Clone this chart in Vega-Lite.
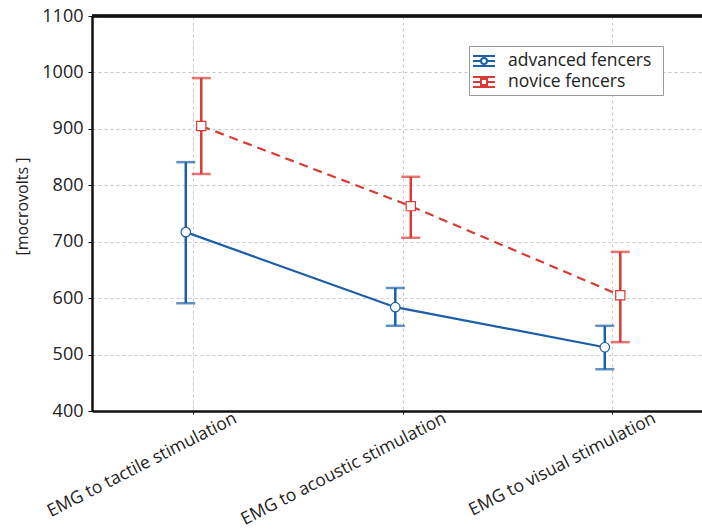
{
  "$schema": "https://vega.github.io/schema/vega-lite/v6.json",
  "autosize": {"type": "none"},
  "width": 610,
  "height": 395,
  "padding": {"left": 92, "top": 16, "right": 0, "bottom": 118},
  "background": "white",
  "config": {
    "view": {"stroke": null},
    "font": "Open Sans",
    "axis": {"labelColor": "#222", "titleColor": "#222"}
  },
  "data": {
    "values": [
      {"stim": "EMG to tactile stimulation", "group": "advanced fencers", "mean": 717, "lo": 591, "hi": 841},
      {"stim": "EMG to acoustic stimulation", "group": "advanced fencers", "mean": 584, "lo": 551, "hi": 618},
      {"stim": "EMG to visual stimulation", "group": "advanced fencers", "mean": 513, "lo": 474, "hi": 551},
      {"stim": "EMG to tactile stimulation", "group": "novice fencers", "mean": 905, "lo": 820, "hi": 990},
      {"stim": "EMG to acoustic stimulation", "group": "novice fencers", "mean": 763, "lo": 707, "hi": 815},
      {"stim": "EMG to visual stimulation", "group": "novice fencers", "mean": 605, "lo": 522, "hi": 682}
    ]
  },
  "encoding": {
    "x": {
      "field": "stim",
      "type": "nominal",
      "sort": ["EMG to tactile stimulation", "EMG to acoustic stimulation", "EMG to visual stimulation"],
      "scale": {"type": "point", "padding": 0.4558, "align": 0.529},
      "axis": {
        "title": null,
        "grid": true,
        "gridColor": "#c8c8c8",
        "gridDash": [3, 3],
        "gridWidth": 1,
        "domainColor": "#111",
        "domainWidth": 2.5,
        "tickColor": "#111",
        "tickSize": 3,
        "labelAngle": -27,
        "labelAlign": "right",
        "labelBaseline": "top",
        "labelOffset": 38,
        "labelPadding": -5,
        "labelLimit": 0,
        "labelFontSize": 17.5
      }
    },
    "xOffset": {"field": "group", "type": "nominal", "scale": {"domain": ["advanced fencers", "novice fencers"], "range": [-15, 16]}}
  },
  "layer": [
    {
      "mark": {"type": "rule", "color": "#111", "strokeWidth": 2.5},
      "encoding": {"y": {"datum": 1100}, "x": null, "xOffset": null}
    },
    {
      "mark": {"type": "rule", "strokeWidth": 2.5},
      "encoding": {
        "y": {
          "field": "lo",
          "type": "quantitative",
          "scale": {"domain": [400, 1100], "nice": false, "zero": false},
          "axis": {
            "values": [400, 500, 600, 700, 800, 900, 1000, 1100],
            "format": "d",
            "title": "[mocrovolts ]",
            "titleFontSize": 16,
            "titleFontWeight": "normal",
            "titleAngle": -90,
            "titleX": -70,
            "titleY": 190,
            "titleAlign": "center",
            "titleBaseline": "middle",
            "labelFontSize": 18,
            "labelPadding": 5,
            "grid": true,
            "gridColor": "#c8c8c8",
            "gridDash": [3, 3],
            "domainColor": "#111",
            "domainWidth": 2.5,
            "tickColor": "#111",
            "tickSize": 4
          }
        },
        "y2": {"field": "hi"},
        "color": {
          "field": "group",
          "type": "nominal",
          "scale": {"domain": ["advanced fencers", "novice fencers"], "range": ["#1c5fa5", "#d83a34"]},
          "legend": {
            "title": "\u00a0\u00a0\u00a0\u00a0\u00a0",
            "titleOrient": "right",
            "titleFontSize": 22,
            "titlePadding": 8,
            "orient": "none",
            "legendX": 377,
            "legendY": 30,
            "fillColor": "white",
            "strokeColor": "#999",
            "padding": 4,
            "labelFontSize": 17.5,
            "labelColor": "#222",
            "symbolSize": 400,
            "symbolStrokeWidth": 2,
            "symbolType": "M-1.1,-0.5L1.1,-0.5M-1.1,0.5L1.1,0.5M-1.1,0L-0.3,0M0.3,0L1.1,0",
            "symbolFillColor": "white",
            "rowPadding": 1,
            "symbolOffset": 0,
            "labelOffset": 13,
            "encode": {
              "symbols": {
                "update": {
                  "shape": {"signal": "datum.value === 'advanced fencers' ? 'M-1.1,-0.5L1.1,-0.5M-1.1,0.5L1.1,0.5M-1.1,0L-0.3,0M0.3,0L1.1,0M0.3,0A0.3,0.3 0 1 1 -0.3,0A0.3,0.3 0 1 1 0.3,0' : 'M-1.1,-0.5L1.1,-0.5M-1.1,0.5L1.1,0.5M-1.1,0L-0.3,0M0.3,0L1.1,0M-0.3,-0.3L0.3,-0.3L0.3,0.3L-0.3,0.3Z'"},
                  "fill": {"value": "white"},
                  "strokeWidth": {"value": 2},
                  "opacity": {"value": 1}
                }
              }
            }
          }
        }
      }
    },
    {
      "transform": [{"filter": "datum.group === 'advanced fencers'"}],
      "mark": {"type": "line", "strokeWidth": 2.2, "color": "#1c5fa5"},
      "encoding": {"y": {"field": "mean", "type": "quantitative"}}
    },
    {
      "transform": [{"filter": "datum.group === 'novice fencers'"}],
      "mark": {"type": "line", "strokeWidth": 2.2, "color": "#d83a34", "strokeDash": [9, 6]},
      "encoding": {"y": {"field": "mean", "type": "quantitative"}}
    },
    {
      "transform": [{"filter": "datum.group === 'advanced fencers'"}, {"fold": ["lo", "hi"], "as": ["end", "val"]}],
      "mark": {"type": "tick", "thickness": 2.5, "size": 19, "orient": "horizontal", "color": "#1c5fa5"},
      "encoding": {"y": {"field": "val", "type": "quantitative"}}
    },
    {
      "transform": [{"filter": "datum.group === 'novice fencers'"}, {"fold": ["lo", "hi"], "as": ["end", "val"]}],
      "mark": {"type": "tick", "thickness": 2.5, "size": 19, "orient": "horizontal", "color": "#d83a34"},
      "encoding": {"y": {"field": "val", "type": "quantitative"}}
    },
    {
      "transform": [{"filter": "datum.group === 'advanced fencers'"}],
      "mark": {"type": "point", "shape": "circle", "filled": true, "fill": "white", "stroke": "#1c5fa5", "strokeWidth": 1.2, "opacity": 1, "size": 90},
      "encoding": {"y": {"field": "mean", "type": "quantitative"}}
    },
    {
      "transform": [{"filter": "datum.group === 'novice fencers'"}],
      "mark": {"type": "point", "shape": "square", "filled": true, "fill": "white", "stroke": "#d83a34", "strokeWidth": 1.2, "opacity": 1, "size": 85},
      "encoding": {"y": {"field": "mean", "type": "quantitative"}}
    }
  ]
}
